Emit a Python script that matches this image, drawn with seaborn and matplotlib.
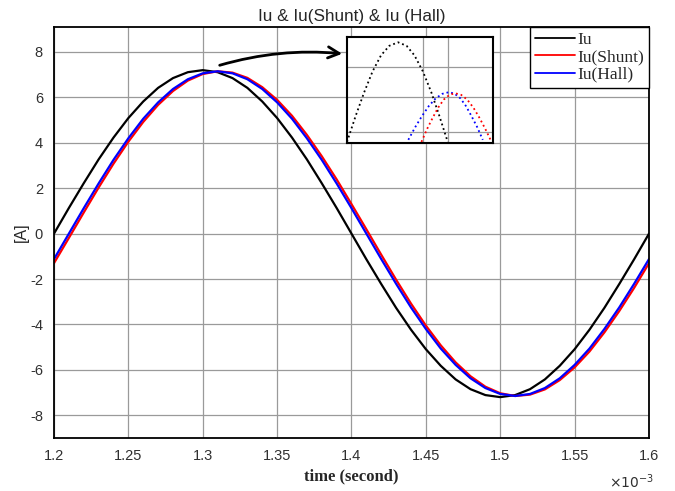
import numpy as np
import pandas as pd
import seaborn as sns
from matplotlib import pyplot as plt

# time axis in ms (shown with x10^-3 offset)
time_ms = np.linspace(1.2, 1.6, 41)

iu = [0, 1.13, 2.22, 3.27, 4.23, 5.09, 5.82, 6.42, 6.85, 7.11, 7.20,
      7.11, 6.85, 6.42, 5.82, 5.09, 4.23, 3.27, 2.22, 1.13, 0,
      -1.13, -2.22, -3.27, -4.23, -5.09, -5.82, -6.42, -6.85, -7.11, -7.20,
      -7.11, -6.85, -6.42, -5.82, -5.09, -4.23, -3.27, -2.22, -1.13, 0]

iu_shunt = [-1.30, -0.19, 0.93, 2.03, 3.08, 4.05, 4.92, 5.67, 6.28, 6.74, 7.03,
            7.15, 7.09, 6.86, 6.45, 5.89, 5.19, 4.35, 3.41, 2.39, 1.30,
            0.19, -0.93, -2.03, -3.08, -4.05, -4.92, -5.67, -6.28, -6.74, -7.03,
            -7.15, -7.09, -6.86, -6.45, -5.89, -5.19, -4.35, -3.41, -2.39, -1.30]

iu_hall = [-1.12, 0, 1.12, 2.21, 3.25, 4.20, 5.06, 5.78, 6.37, 6.80, 7.06,
           7.15, 7.06, 6.80, 6.37, 5.78, 5.06, 4.20, 3.25, 2.21, 1.12,
           0, -1.12, -2.21, -3.25, -4.20, -5.06, -5.78, -6.37, -6.80, -7.06,
           -7.15, -7.06, -6.80, -6.37, -5.78, -5.06, -4.20, -3.25, -2.21, -1.12]

# zoomed peak view (inset, arbitrary units)
zoom_iu_x = [0, 0.6, 1.17, 1.75, 2.33, 2.9, 3.5, 4.08, 4.62, 5.2, 5.78, 6.32, 6.9]
zoom_iu_y = [0.1, 2.58, 4.76, 6.75, 8.27, 9.17, 9.5, 9.17, 8.27, 6.75, 4.76, 2.58, 0.1]
zoom_hall_x = [4.2, 4.67, 5.13, 5.6, 6.07, 6.53, 7.0, 7.38, 7.77, 8.15, 8.53, 8.92, 9.3]
zoom_hall_y = [0.3, 1.49, 2.53, 3.48, 4.21, 4.64, 4.8, 4.64, 4.21, 3.48, 2.53, 1.49, 0.3]
zoom_shunt_x = [5.1, 5.48, 5.87, 6.25, 6.63, 7.02, 7.4, 7.82, 8.23, 8.65, 9.07, 9.48, 9.9]
zoom_shunt_y = [0.1, 1.31, 2.38, 3.35, 4.10, 4.54, 4.7, 4.54, 4.10, 3.35, 2.38, 1.31, 0.1]

labels = ['Iu', 'Iu(Shunt)', 'Iu(Hall)']
colors = ['black', 'red', 'blue']

df = pd.DataFrame({
    'time': np.concatenate([time_ms] * 3),
    'current': np.concatenate([iu, iu_shunt, iu_hall]),
    'signal': np.repeat(labels, len(time_ms)),
})

sns.set_style("white")
plt.rcParams['font.family'] = ['Liberation Sans', 'DejaVu Sans']
plt.rcParams['axes.unicode_minus'] = False

fig = plt.figure(figsize=(6.75, 4.91), dpi=100)
ax = fig.add_axes([54 / 675, 1 - 438 / 491, 595 / 675, 411 / 491])

sns.lineplot(data=df, x='time', y='current', hue='signal', hue_order=labels,
             palette=colors, linewidth=1.6, ax=ax, legend=False)

ax.set_xlim(1.2, 1.6)
ax.set_ylim(-9.0, 9.1)
ax.set_xticks(np.arange(1.2, 1.61, 0.05))
ax.set_xticklabels(['1.2', '1.25', '1.3', '1.35', '1.4', '1.45', '1.5', '1.55', '1.6'])
ax.set_yticks(np.arange(-8, 9, 2))
ax.grid(True, color='#9a9a9a', linewidth=0.9)
ax.tick_params(direction='in', length=4, labelsize=10.5, labelcolor='#303030', pad=8)
for s in ax.spines.values():
    s.set_color('black')
    s.set_linewidth(1.3)

ax.set_title('Iu & Iu(Shunt) & Iu (Hall)', fontsize=12.3, pad=4)
ax.set_xlabel('time (second)', family='Liberation Serif', fontsize=12, fontweight='bold', labelpad=4)
ax.set_ylabel('[A]', fontsize=11.5, labelpad=1)
fig.text(631 / 675, 1 - 482 / 491, r'$\times10^{\mathrm{-3}}$', ha='center', va='center',
         fontsize=10, color='#303030')

handles = [plt.Line2D([], [], color=c, linewidth=1.3) for c in colors]
leg = ax.legend(handles, labels, loc='upper right', borderaxespad=0, fancybox=False,
                framealpha=1, edgecolor='black', handlelength=2.3, labelspacing=0.06,
                handletextpad=0.1, borderpad=0.3,
                prop={'family': 'Liberation Serif', 'size': 12.5})
leg.get_frame().set_linewidth(1.0)

# arrow pointing at the zoomed view
ax.annotate('', xy=(1.3956, 7.91), xytext=(1.3096, 7.38),
            arrowprops=dict(arrowstyle='->', color='black', lw=2,
                            connectionstyle='arc3,rad=-0.1', mutation_scale=20))

ins = fig.add_axes([347 / 675, 1 - 143 / 491, 146 / 675, 106 / 491])
ins.set_facecolor('white')
sns.lineplot(x=zoom_iu_x, y=zoom_iu_y, color='black', linestyle=':', linewidth=1.3, ax=ins)
sns.lineplot(x=zoom_hall_x, y=zoom_hall_y, color='blue', linestyle=':', linewidth=1.3, ax=ins)
sns.lineplot(x=zoom_shunt_x, y=zoom_shunt_y, color='red', linestyle=':', linewidth=1.3, ax=ins)
ins.set_xlim(0, 10)
ins.set_ylim(0, 10)
ins.set_xticks([5.2, 6.9])
ins.set_yticks([1.0, 4.3, 7.2])
ins.set_xticklabels([])
ins.set_yticklabels([])
ins.tick_params(length=0)
ins.grid(True, color='#9a9a9a', linewidth=0.9)
for s in ins.spines.values():
    s.set_color('black')
    s.set_linewidth(1.5)

fig.savefig('out.png', dpi=100)
